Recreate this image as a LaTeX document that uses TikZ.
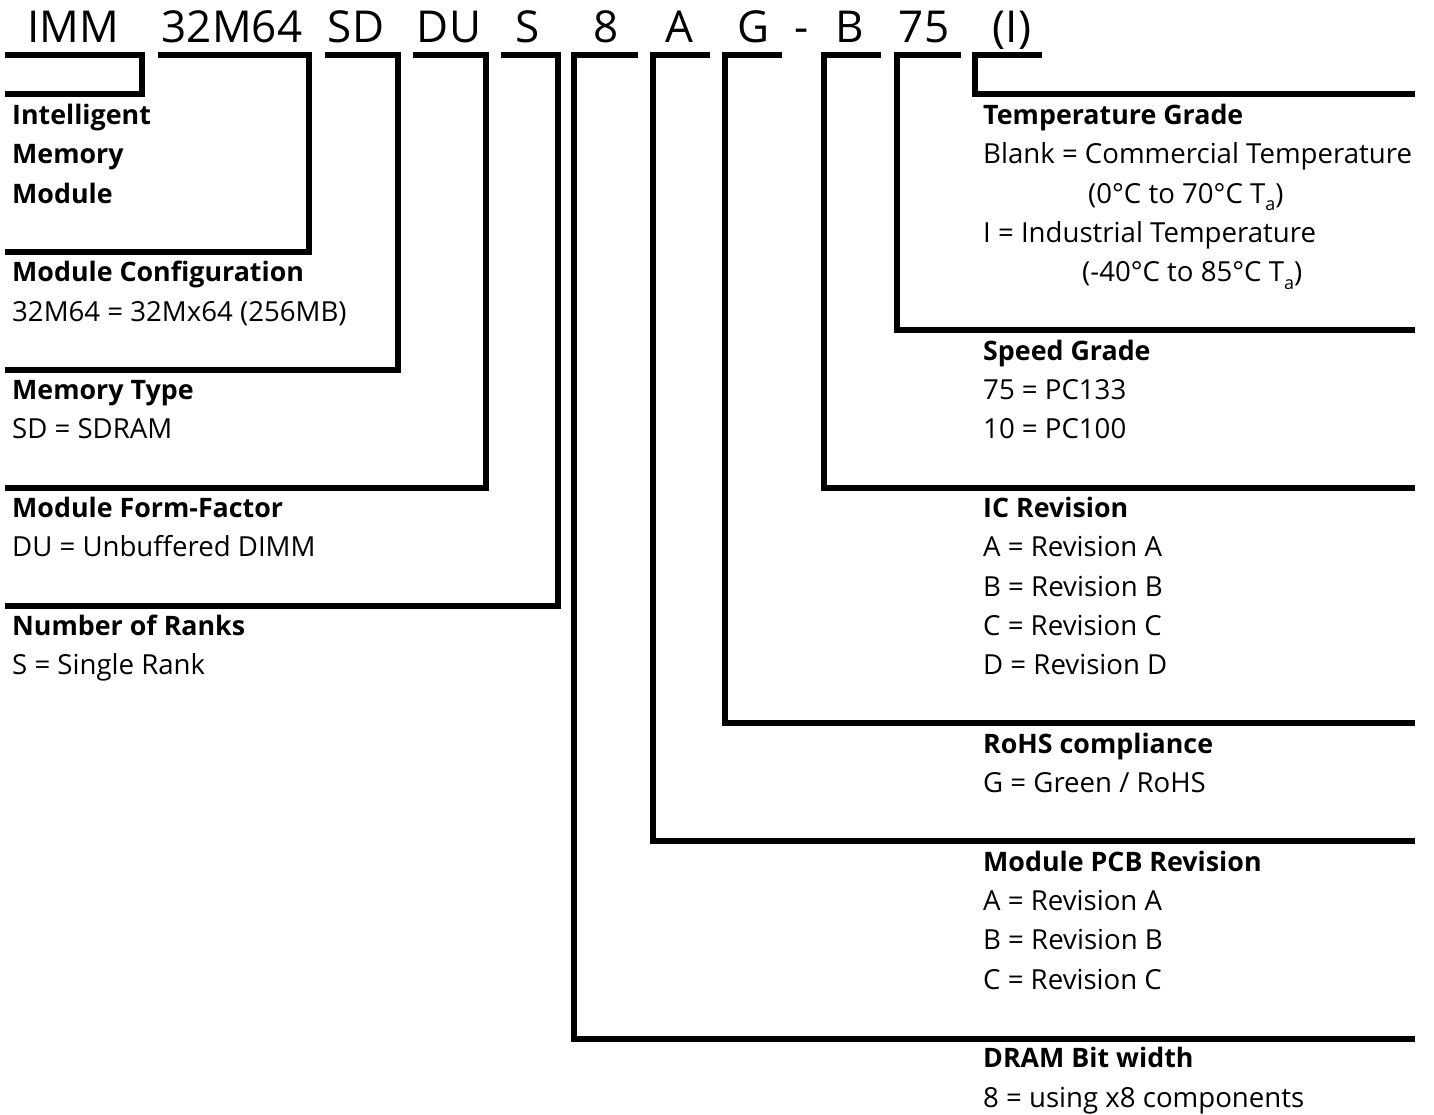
\documentclass[tikz,border=0pt]{standalone}
\usepackage{fontspec}
\setmainfont{Open Sans}
\newcommand{\subA}{\raisebox{-0.28em}{\fontsize{18}{20}\selectfont a}}
\begin{document}
\begin{tikzpicture}[x=1pt,y=-1pt,
  bar/.style={line width=6pt, line join=miter, line cap=butt},
  code/.style={font=\fontsize{44}{50}\selectfont, anchor=base, inner sep=0pt},
  head/.style={font=\fontsize{26.8}{32}\selectfont\bfseries, anchor=base west, inner sep=0pt},
  body/.style={font=\fontsize{27.6}{33}\selectfont, anchor=base west, inner sep=0pt}]
\useasboundingbox (0,0) rectangle (1434,1114);

% code parts
\node[code] (cIMM) at (73,42) {IMM};
\node[code] (cCfg) at (232,42) {32M64};
\node[code] (cSD) at (356,42) {SD};
\node[code] (cDU) at (449,42) {DU};
\node[code] (cS) at (528,42) {S};
\node[code] (c8) at (606,42) {8};
\node[code] (cA) at (679,42) {A};
\node[code] (cG) at (754,42) {G};
\node[code] (cDash) at (802,42) {-};
\node[code] (cB) at (850,42) {B};
\node[code] (c75) at (924,42) {75};
\node[code] (cI) at (1012,42) {(I)};

% left descriptions
\node[head] (hIMM1) at (12,124.5) {Intelligent};
\node[head] (hIMM2) at (12,163.8) {Memory};
\node[head] (hIMM3) at (12,203.1) {Module};
\node[head] (hCfg) at (12,281.7) {Module Configuration};
\node[body] (bCfg) at (12,321.0) {32M64 = 32Mx64 (256MB)};
\node[head] (hSD) at (12,399.6) {Memory Type};
\node[body] (bSD) at (12,438.9) {SD = SDRAM};
\node[head] (hDU) at (12,517.5) {Module Form-Factor};
\node[body] (bDU) at (12,556.8) {DU = Unbuffered DIMM};
\node[head] (hS) at (12,635.4) {Number of Ranks};
\node[body] (bS) at (12,674.7) {S = Single Rank};

% right descriptions
\node[head] (hI) at (983,124.5) {Temperature Grade};
\node[body] (bI1) at (983,163.8) {Blank = Commercial Temperature};
\node[body] (bI2) at (1088,203.1) {(0°C to 70°C T\subA)};
\node[body] (bI3) at (983,242.4) {I = Industrial Temperature};
\node[body] (bI4) at (1082,281.7) {(-40°C to 85°C T\subA)};
\node[head] (h75) at (983,360.3) {Speed Grade};
\node[body] (b751) at (983,399.6) {75 = PC133};
\node[body] (b752) at (983,438.9) {10 = PC100};
\node[head] (hB) at (983,517.5) {IC Revision};
\node[body] (bB1) at (983,556.8) {A = Revision A};
\node[body] (bB2) at (983,596.1) {B = Revision B};
\node[body] (bB3) at (983,635.4) {C = Revision C};
\node[body] (bB4) at (983,674.7) {D = Revision D};
\node[head] (hG) at (983,753.3) {RoHS compliance};
\node[body] (bG) at (983,792.6) {G = Green / RoHS};
\node[head] (hA) at (983,871.2) {Module PCB Revision};
\node[body] (bA1) at (983,910.5) {A = Revision A};
\node[body] (bA2) at (983,949.8) {B = Revision B};
\node[body] (bA3) at (983,989.1) {C = Revision C};
\node[head] (h8) at (983,1067.7) {DRAM Bit width};
\node[body] (b8) at (983,1107.0) {8 = using x8 components};

% brackets: left-turning
\draw[bar] (5,55) -| (142,94) -- (5,94);
\draw[bar] (158,55) -| (308.5,251.5) -- (5,251.5);
\draw[bar] (325,55) -| (398,369.5) -- (5,369.5);
\draw[bar] (413,55) -| (486,487.5) -- (5,487.5);
\draw[bar] (501,55) -| (558,605.5) -- (5,605.5);
% brackets: right-turning
\draw[bar] (637.7,55) -| (574,1038.5) -- (1415,1038.5);
\draw[bar] (710,55) -| (653,841) -- (1415,841);
\draw[bar] (782,55) -| (725,723) -- (1415,723);
\draw[bar] (881,55) -| (824,488) -- (1415,488);
\draw[bar] (961,55) -| (897,330) -- (1415,330);
\draw[bar] (1042,55) -| (975,94) -- (1415,94);
\end{tikzpicture}
\end{document}
